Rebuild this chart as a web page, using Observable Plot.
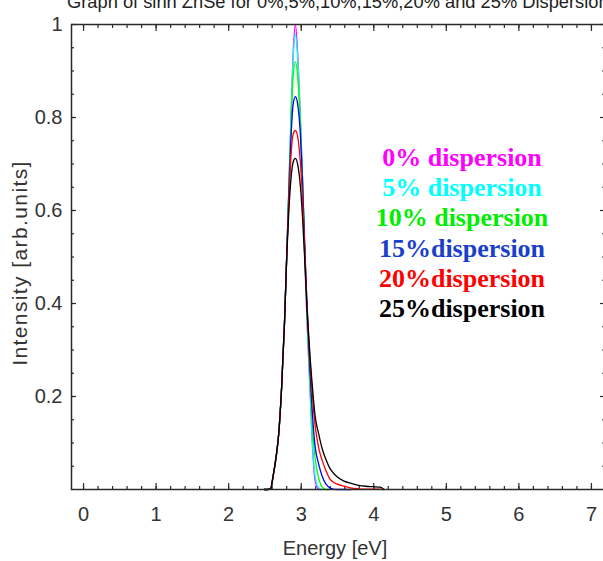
<!DOCTYPE html>
<html><head><meta charset="utf-8">
<script src="https://cdn.jsdelivr.net/npm/d3@7"></script>
<script src="https://cdn.jsdelivr.net/npm/@observablehq/plot@0.6"></script>
<style>
html,body{margin:0;padding:0;background:#fff;overflow:hidden;width:603px;height:561px}
#wrap{position:relative;width:603px;height:561px;overflow:hidden}
#chart{position:absolute;left:0;top:0;width:610px;height:561px}
#chart svg{max-width:none !important;width:610px !important;height:561px !important}
#chart .ylab text{letter-spacing:1.4px}
#title{position:absolute;left:67px;top:-8px;white-space:nowrap;font:18.3px "Liberation Sans",Arial,sans-serif;color:#222;line-height:19px}
#legend{position:absolute;left:362px;width:200px;top:143px;text-align:center;font:bold 26px "Liberation Serif","Times New Roman",serif;line-height:30.2px}
</style></head><body>
<div id="wrap"><div id="chart"></div><div id="title"></div><div id="legend"></div></div>
<script>
const titleText = "Graph of sinh ZnSe for 0%,5%,10%,15%,20% and 25% Dispersion";
const xLabel = "Energy [eV]";
const yLabel = "Intensity [arb.units]";

const energy = [2.49, 2.54, 2.58, 2.61, 2.66, 2.69, 2.73, 2.77, 2.80, 2.83, 2.86, 2.89, 2.92, 2.95, 2.99, 3.02, 3.05, 3.08, 3.12, 3.16, 3.19, 3.24, 3.29, 3.34, 3.39, 3.44, 3.49, 3.59, 3.69, 3.79, 3.89, 3.99, 4.09, 4.14];
const disp0  = [0,0,0.002,0.026,0.077,0.12,0.22,0.36,0.50,0.65,0.80,0.94,1.00,0.94,0.79,0.66,0.49,0.36,0.22,0.08,0.02,0,null,null,null,null,null,null,null,null,null,null,null,null];
const disp5  = [0,0,0.002,0.026,0.077,0.12,0.22,0.36,0.50,0.65,0.80,0.93,0.98,0.93,0.79,0.66,0.50,0.37,0.225,0.085,0.03,0.004,0,null,null,null,null,null,null,null,null,null,null,null];
const disp10 = [0,0,0.002,0.026,0.077,0.12,0.22,0.36,0.50,0.65,0.79,0.89,0.92,0.89,0.78,0.66,0.51,0.38,0.24,0.12,0.07,0.025,0.005,0,0,null,null,null,null,null,null,null,null,null];
const disp15 = [0,0,0.002,0.026,0.077,0.12,0.22,0.36,0.50,0.64,0.76,0.83,0.845,0.83,0.76,0.65,0.52,0.39,0.26,0.15,0.095,0.055,0.028,0.012,0.004,0.001,0,0,0,null,null,null,null,null];
const disp20 = [0,0,0.002,0.026,0.077,0.12,0.22,0.36,0.50,0.62,0.72,0.765,0.772,0.76,0.70,0.62,0.51,0.40,0.28,0.19,0.14,0.09,0.062,0.041,0.024,0.016,0.012,0.007,0.003,0.0015,0.001,0.001,0.001,0];
const disp25 = [0,0,0.002,0.026,0.077,0.12,0.22,0.36,0.50,0.60,0.67,0.705,0.712,0.70,0.65,0.58,0.49,0.39,0.29,0.21,0.16,0.12,0.087,0.065,0.047,0.036,0.028,0.018,0.013,0.009,0.007,0.006,0.005,0];

const seriesNames  = ["0% dispersion", "5% dispersion", "10% dispersion", "15%dispersion", "20%dispersion", "25%dispersion"];
const seriesValues = [disp0, disp5, disp10, disp15, disp20, disp25];
const lineColors   = ["#ff00ff", "#00ffff", "#00ff00", "#0000ff", "#ff0000", "#000000"];
const legendColors = ["#ff00ff", "#00ffff", "#00ee00", "#1a3fc8", "#ff0000", "#000000"];

const xTickValues = [0, 1, 2, 3, 4, 5, 6, 7];
const yTickValues = [0.2, 0.4, 0.6, 0.8, 1];
const yTickLabels = ["0.2", "0.4", "0.6", "0.8", "1"];
const xMinorTicks = d3.range(0, 7.01, 0.2).map(v => +v.toFixed(2));
const yMinorTicks = d3.range(0.05, 1.0, 0.05).map(v => +v.toFixed(2));

const rows = [];
seriesValues.forEach((vals, s) => {
  vals.forEach((v, i) => { if (v !== null) rows.push({series: seriesNames[s], x: energy[i], y: v}); });
});

const ink = "#2b2b2b";
const tickAxis = (ticks, anchor, size, isX) => (isX ? Plot.axisX : Plot.axisY)(ticks, {
  anchor, tickSize: -size, tickFormat: () => "", label: null, stroke: ink, strokeWidth: 1.2
});

const chart = Plot.plot({
  width: 610, height: 561,
  marginLeft: 71, marginRight: 6, marginTop: 24, marginBottom: 72,
  style: {fontFamily: "'Liberation Sans', Arial, sans-serif", background: "transparent", color: ink},
  x: {domain: [-0.166, 7.18]},
  y: {domain: [0, 1]},
  color: {domain: seriesNames, range: lineColors},
  marks: [
    tickAxis(xMinorTicks, "bottom", 3, true),
    tickAxis(xMinorTicks, "top", 3, true),
    tickAxis(xTickValues, "bottom", 6, true),
    tickAxis(xTickValues, "top", 6, true),
    tickAxis(yMinorTicks, "left", 3, false),
    tickAxis(yMinorTicks, "right", 3, false),
    tickAxis(yTickValues, "left", 5, false),
    tickAxis(yTickValues, "right", 5, false),
    Plot.axisX(xTickValues, {anchor: "bottom", tickSize: 0, tickPadding: 17, label: null, fontSize: 20, fill: "#333"}),
    Plot.axisY(yTickValues, {anchor: "left", tickSize: 0, tickPadding: 9, label: null, fontSize: 20, fill: "#333",
      tickFormat: d => yTickLabels[yTickValues.indexOf(d)]}),
    Plot.text([xLabel], {text: d => d, frameAnchor: "bottom", textAnchor: "middle", dy: 59, dx: -3, fontSize: 20, fill: "#333", lineAnchor: "middle"}),
    Plot.text([yLabel], {text: d => d, frameAnchor: "left", textAnchor: "middle", dx: -51, dy: 6, rotate: -90, fontSize: 21, fill: "#333", lineAnchor: "middle", className: "ylab"}),
    Plot.line(rows, {x: "x", y: "y", z: "series", stroke: "series", strokeWidth: 1.3, curve: "monotone-x"}),
    Plot.frame({stroke: ink, strokeWidth: 1.5})
  ]
});
document.getElementById("chart").appendChild(chart);
document.getElementById("title").textContent = titleText;
const legend = document.getElementById("legend");
seriesNames.forEach((name, i) => {
  const d = document.createElement("div");
  d.textContent = name;
  d.style.color = legendColors[i];
  legend.appendChild(d);
});
</script>
</body></html>
